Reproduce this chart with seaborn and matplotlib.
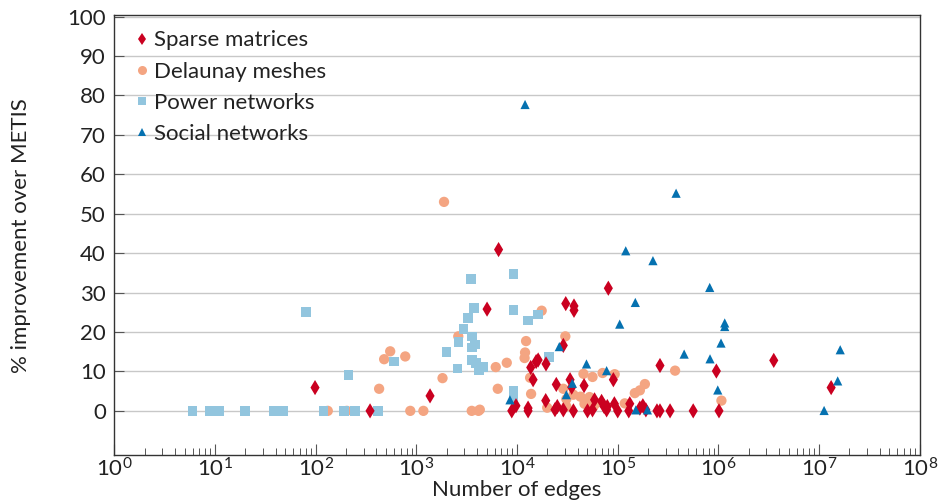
import numpy as np
import pandas as pd
import matplotlib
matplotlib.use("Agg")
import matplotlib.pyplot as plt
import seaborn as sns
from matplotlib.ticker import LogLocator, NullFormatter
from matplotlib.lines import Line2D

# ---------------- data ----------------
sparse_edges = [98.6, 347, 1368, 6560, 5040, 30480, 36810, 36810, 80720, 28840,
                15490, 16220, 19410, 13680, 14450, 33650, 46340, 24550, 34910, 90570,
                263000, 8870, 9770, 12880, 12880, 19280, 23820, 25120, 28840, 36310,
                50120, 56230, 69180, 73280, 77620, 92680, 100000, 131800, 128800, 166000,
                177800, 190500, 245500, 263000, 331100, 562300, 58880, 955000, 3548000, 13180000,
                1014000, 78900]
sparse_impr = [5.9, 0, 3.8, 40.9, 25.8, 27.2, 26.6, 25.5, 31.1, 16.6,
               12.5, 12.9, 11.9, 11.0, 7.9, 7.9, 6.4, 6.7, 6.0, 7.9,
               11.5, 0, 1.3, 0.7, 0, 2.6, 0.3, 1.1, 0.25, 0,
               0, 0.25, 2.4, 1.1, 0.25, 1.8, 0, 1.8, 0, 0.7,
               1.3, 0.25, 0, 0, 0, 0, 2.8, 10.1, 12.8, 5.9,
               0, 1.1]

delaunay_edges = [132, 204, 427, 479, 550, 776, 871, 1175, 1820, 1884,
                  2610, 3550, 4140, 6150, 7910, 6440, 12300, 12020, 11890, 13490,
                  13800, 17580, 30200, 19950, 28840, 30900, 30900, 36300, 42660, 45710,
                  56230, 52480, 46770, 57540, 48980, 61660, 70790, 93330, 117500, 147900,
                  166000, 186200, 371500, 1072000, 4270]
delaunay_impr = [0, 0, 5.6, 13.1, 15.1, 13.8, 0, 0, 8.3, 53.0,
                 18.9, 0, 0, 11.1, 12.2, 5.6, 17.7, 14.8, 13.4, 8.4,
                 4.3, 25.4, 18.9, 0.8, 5.6, 3.0, 1.1, 4.1, 3.6, 9.4,
                 8.6, 3.5, 1.8, 1.1, 2.4, 2.0, 9.6, 9.3, 1.9, 4.5,
                 5.2, 6.8, 10.2, 2.6, 0.3]

power_edges = [6.0, 8.9, 10, 11, 20, 38, 43, 48, 120, 190,
               245, 415, 80, 212, 600, 2000, 3490, 9250, 3740, 9250,
               3240, 12900, 16200, 2930, 3550, 2630, 3830, 3550, 20650, 3550,
               3920, 2560, 4170, 4650, 9250, 9250]
power_impr = [0, 0, 0, 0, 0, 0, 0, 0, 0, 0,
              0, 0, 25.0, 9.1, 12.5, 15.0, 33.5, 34.7, 26.1, 25.6,
              23.5, 22.9, 24.4, 20.7, 18.9, 17.4, 16.8, 16.1, 13.6, 12.9,
              12.1, 10.7, 10.4, 11.1, 5.0, 3.3]

social_edges = [380200, 120200, 223900, 149600, 104700, 457100, 26300, 35480, 48980, 77620,
                30900, 8510, 151400, 197200, 820300, 1156000, 1156000, 1062000, 826000, 986000,
                16220000, 15310000, 11220000, 12020]
social_impr = [55.2, 40.6, 38.1, 27.5, 22.0, 14.4, 16.3, 7.0, 11.9, 10.2,
               4.1, 2.8, 0.25, 0.25, 31.3, 22.3, 21.4, 17.2, 13.2, 5.3,
               15.5, 7.6, 0.1, 77.7]

categories = ["Sparse matrices", "Delaunay meshes", "Power networks", "Social networks"]
x_tick_exponents = list(range(0, 9))
y_ticks = list(range(0, 101, 10))

# ---------------- build table ----------------
frames = []
for name, xs, ys in [("Sparse matrices", sparse_edges, sparse_impr),
                     ("Delaunay meshes", delaunay_edges, delaunay_impr),
                     ("Power networks", power_edges, power_impr),
                     ("Social networks", social_edges, social_impr)]:
    frames.append(pd.DataFrame({"edges": xs, "impr": ys, "type": name}))
df = pd.concat(frames, ignore_index=True)

colors = {"Sparse matrices": "#ca0020", "Delaunay meshes": "#f4a582",
          "Power networks": "#92c5de", "Social networks": "#0571b0"}
markers = {"Sparse matrices": "d", "Delaunay meshes": "o",
           "Power networks": "s", "Social networks": "^"}
sizes = {"Sparse matrices": 60, "Delaunay meshes": 55,
         "Power networks": 48, "Social networks": 44}

sns.set_theme(style="white")
plt.rcParams["font.family"] = ["Lato", "DejaVu Sans"]
plt.rcParams["mathtext.fontset"] = "custom"
plt.rcParams["mathtext.rm"] = "Lato"
plt.rcParams["mathtext.it"] = "Lato:italic"
plt.rcParams["mathtext.bf"] = "Lato:bold"

FS = 16
fig = plt.figure(figsize=(9.39, 5.03), dpi=100)
ax = fig.add_axes([0.1217, 0.0946, 0.8578, 0.8756])

draw_order = ["Delaunay meshes", "Power networks", "Sparse matrices", "Social networks"]
for i, name in enumerate(draw_order):
    sub = df[df["type"] == name]
    sns.scatterplot(data=sub, x="edges", y="impr", ax=ax, color=colors[name],
                    marker=markers[name], s=sizes[name], linewidth=0,
                    edgecolor="none", legend=False, zorder=3 + i)

ax.set_xscale("log")
ax.set_xlim(10 ** x_tick_exponents[0], 10 ** x_tick_exponents[-1])
ax.set_ylim(-11.3, 100.4)
ax.set_xticks([10.0 ** e for e in x_tick_exponents])
ax.xaxis.set_minor_locator(LogLocator(base=10, subs=np.arange(2, 10), numticks=100))
ax.xaxis.set_minor_formatter(NullFormatter())
ax.set_yticks(y_ticks)
ax.yaxis.grid(True, color="#c8c8c8", linewidth=1.0, zorder=0)
ax.xaxis.grid(False)
ax.set_axisbelow(True)

ax.tick_params(axis="x", which="major", direction="in", length=8, width=0.8,
               color="#555555", bottom=True, top=False, labelsize=FS, pad=1)
ax.tick_params(axis="x", which="minor", direction="in", length=5, width=0.7,
               color="#555555", bottom=True, top=False)
ax.tick_params(axis="y", which="major", direction="in", length=7, width=0.8,
               color="#555555", left=True, right=False, labelsize=FS, pad=6)

for sp in ax.spines.values():
    sp.set_color("#333333")
    sp.set_linewidth(1.0)

ax.set_xlabel("Number of edges", fontsize=FS, labelpad=0, color="#222222")
ax.set_ylabel("% improvement over METIS", fontsize=FS, labelpad=26, color="#222222")
for lab in ax.get_xticklabels() + ax.get_yticklabels():
    lab.set_color("#222222")

handles = [Line2D([0], [0], linestyle="none", marker=markers[c], color=colors[c],
                  markersize=6 if markers[c] != "o" else 6.5, markeredgewidth=0)
           for c in categories]
leg = ax.legend(handles, categories, loc="upper left", frameon=False, fontsize=FS,
                handlelength=0.6, handletextpad=0.25, labelspacing=0.5,
                borderaxespad=0.0, bbox_to_anchor=(0.015, 0.985))
for t in leg.get_texts():
    t.set_color("#222222")

fig.savefig("out.png", dpi=100)
